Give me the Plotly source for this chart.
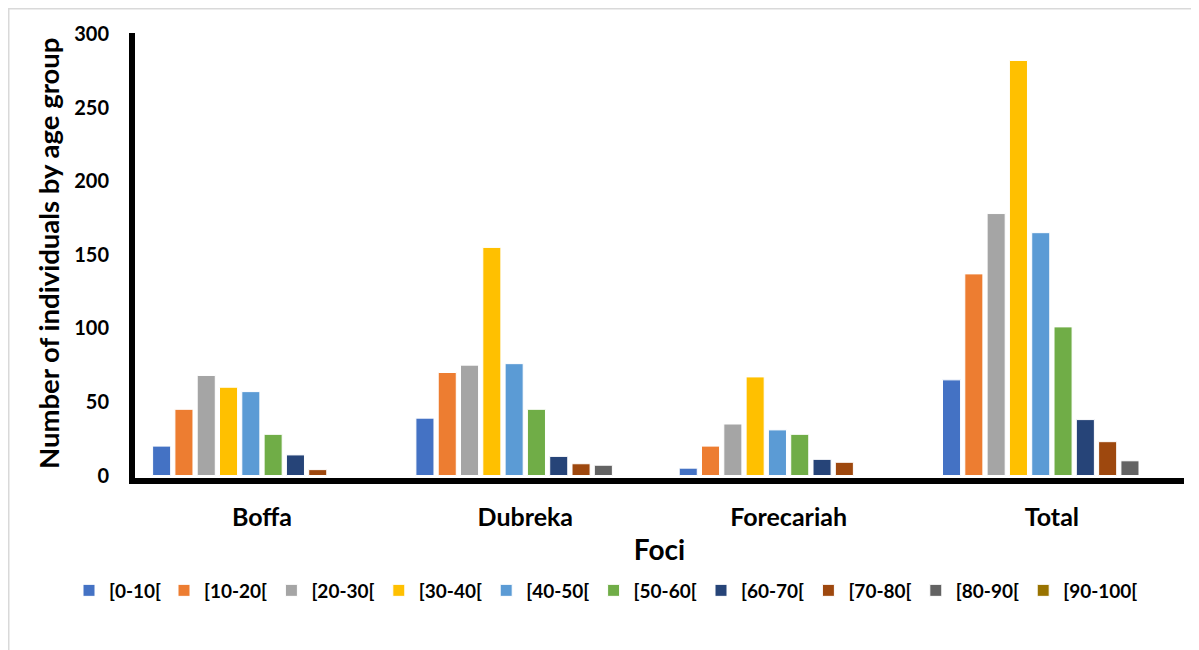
import plotly.graph_objects as go

foci = ["Boffa", "Dubreka", "Forecariah", "Total"]
age_groups = ["[0-10[", "[10-20[", "[20-30[", "[30-40[", "[40-50[",
              "[50-60[", "[60-70[", "[70-80[", "[80-90[", "[90-100["]
boffa = [20, 45, 68, 60, 57, 28, 14, 4, 0, 0]
dubreka = [39, 70, 75, 155, 76, 45, 13, 8, 7, 0]
forecariah = [5, 20, 35, 67, 31, 28, 11, 9, 0, 0]
total = [65, 137, 178, 282, 165, 101, 38, 23, 10, 0]
colors = ["#4472C4", "#ED7D31", "#A5A5A5", "#FFC000", "#5B9BD5",
          "#70AD47", "#264478", "#9E480E", "#636363", "#997300"]
y_ticks = [0, 50, 100, 150, 200, 250, 300]

FONT = "Lato"
# page body has an 8px margin, so the figure is 8px smaller than the window
W, H = 1191, 642
ml, mr, mt, mb = 127, 15, 25, 172
pw, ph = W - ml - mr, H - mt - mb


def px_x(p):
    return (p - ml) / pw


def px_y(p):
    return (H - mb - p) / ph


legend_names = ["legend"] + ["legend%d" % (i + 1) for i in range(1, len(age_groups))]

fig = go.Figure()
for i, g in enumerate(age_groups):
    vals = [boffa[i], dubreka[i], forecariah[i], total[i]]
    fig.add_trace(go.Bar(
        x=foci, y=vals, name=g, legend=legend_names[i], showlegend=True,
        marker=dict(color=colors[i], line=dict(color="white", width=1)),
    ))

# left edges (in page pixels) of the legend swatches
swatch_left = [92] + [187 + 107.4 * (i - 1) for i in range(1, len(age_groups))]
legend_layout = {}
for i, ln in enumerate(legend_names):
    legend_layout[ln] = dict(
        orientation="h", x=px_x(swatch_left[i] - 31), xanchor="left",
        y=px_y(563.5), yanchor="top",
        font=dict(family=FONT, size=19, color="black", weight="bold"),
        itemwidth=30, bgcolor="rgba(0,0,0,0)",
    )

fig.update_layout(
    width=W, height=H,
    margin=dict(l=ml, r=mr, t=mt, b=mb),
    paper_bgcolor="white", plot_bgcolor="white",
    showlegend=True,
    barmode="group", bargap=0.153, bargroupgap=0.19,
    font=dict(family=FONT, color="black"),
    xaxis=dict(
        range=[-0.4823, 3.5017],
        showline=True, linecolor="black", linewidth=6,
        showgrid=False, ticks="", ticklabelstandoff=12,
        tickfont=dict(family=FONT, size=25, color="black", weight="bold"),
        title=dict(text="<b>Foci</b>", font=dict(family=FONT, size=28, color="black"),
                   standoff=12),
    ),
    yaxis=dict(
        range=[-1.68, 300.67], tickvals=y_ticks,
        showline=True, linecolor="black", linewidth=6,
        showgrid=False, zeroline=False, ticks="", ticklabelstandoff=16,
        tickfont=dict(family=FONT, size=20, color="black", weight="bold"),
    ),
    annotations=[dict(
        text="<b>Number of individuals by age group</b>",
        xref="paper", yref="paper", x=px_x(40), y=px_y(246),
        xanchor="center", yanchor="middle", textangle=-90, showarrow=False,
        font=dict(family=FONT, size=27.5, color="black"),
    )],
    shapes=[dict(type="rect", xref="paper", yref="paper",
                 x0=px_x(0.75), x1=px_x(1300), y0=px_y(760), y1=px_y(0.75),
                 line=dict(color="#D9D9D9", width=1.5), layer="below")],
    **legend_layout,
)

fig.write_html("out.html")
